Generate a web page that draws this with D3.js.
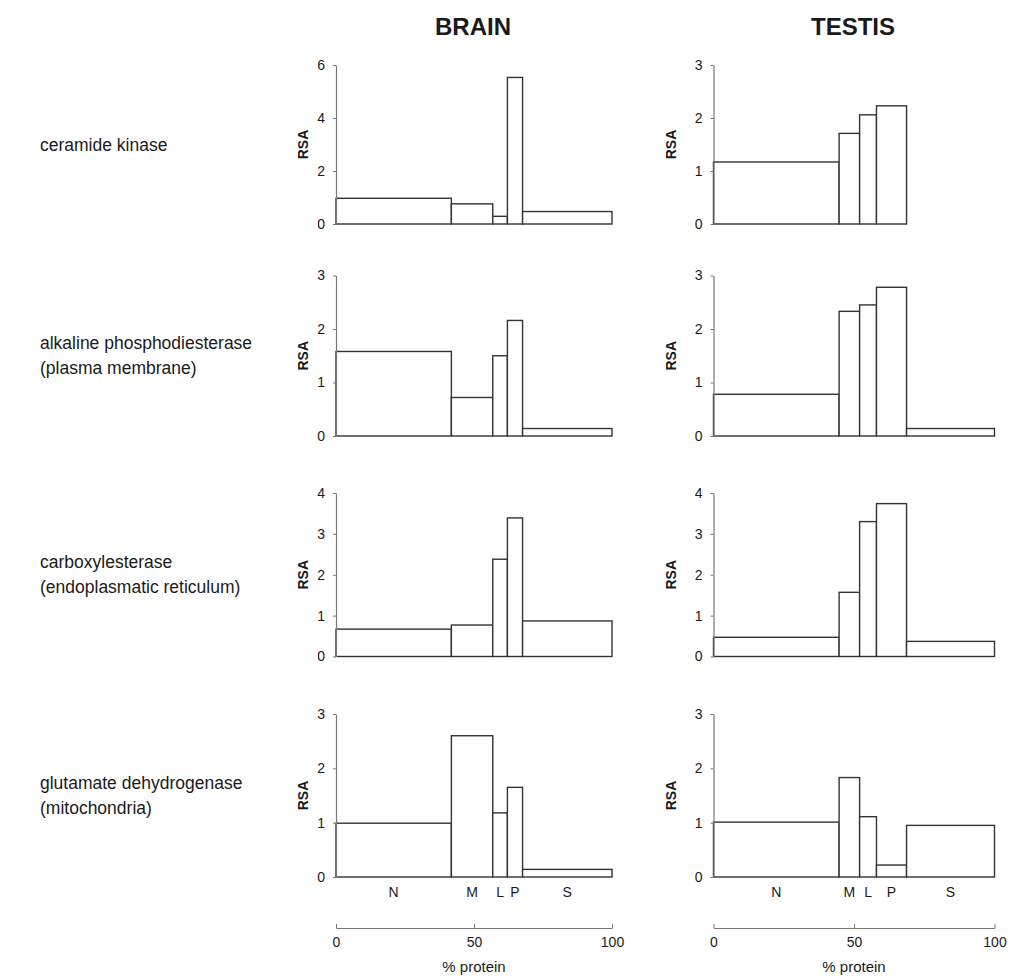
<!DOCTYPE html>
<html lang="en">
<head>
    <meta charset="UTF-8">
    <title>RSA distribution - brain and testis</title>
    <script src="https://d3js.org/d3.v7.min.js"></script>
    <style>
        body { margin: 0; background: #fff; }
        text { font-family: "Liberation Sans", Arial, Helvetica, sans-serif; fill: #1a1a1a; }
    </style>
</head>
<body>
<svg width="1010" height="976"></svg>

<script>
    // fractions along the x axis (% of total protein)
    const fractions = ["N", "M", "L", "P", "S"];
    const brainWidths = [41.8, 15.0, 5.3, 5.5, 32.4];
    const testisWidths = [44.7, 7.3, 6.0, 10.7, 31.3];

    const enzymes = [
        ["ceramide kinase"],
        ["alkaline phosphodiesterase", "(plasma membrane)"],
        ["carboxylesterase", "(endoplasmatic reticulum)"],
        ["glutamate dehydrogenase", "(mitochondria)"]
    ];

    // relative specific activity, one row per enzyme, one value per fraction
    const brainRSA = [
        [0.97, 0.76, 0.29, 5.53, 0.47],
        [1.58, 0.72, 1.50, 2.16, 0.14],
        [0.67, 0.77, 2.38, 3.39, 0.87],
        [0.99, 2.60, 1.18, 1.65, 0.14]
    ];
    const testisRSA = [
        [1.17, 1.71, 2.06, 2.23, 0.00],
        [0.78, 2.33, 2.45, 2.78, 0.14],
        [0.47, 1.57, 3.30, 3.74, 0.37],
        [1.01, 1.83, 1.11, 0.22, 0.95]
    ];
    const brainMax = [6, 3, 4, 3];
    const testisMax = [3, 3, 4, 3];
    const brainTicks = [[0, 2, 4, 6], [0, 1, 2, 3], [0, 1, 2, 3, 4], [0, 1, 2, 3]];
    const testisTicks = [[0, 1, 2, 3], [0, 1, 2, 3], [0, 1, 2, 3, 4], [0, 1, 2, 3]];
    const protTicks = [0, 50, 100];

    const svg = d3.select("svg");

    const rowTop = [65, 275.5, 493, 714];
    const rowBottom = [224, 436, 656.5, 877];

    const columns = [
        {name: "BRAIN", widths: brainWidths, rsa: brainRSA, max: brainMax, ticks: brainTicks,
         x: d3.scaleLinear().domain([0, 100]).range([336, 612]), rsaX: 303},
        {name: "TESTIS", widths: testisWidths, rsa: testisRSA, max: testisMax, ticks: testisTicks,
         x: d3.scaleLinear().domain([0, 100]).range([713.5, 994.5]), rsaX: 671}
    ];

    // row labels
    enzymes.forEach((lines, i) => {
        const mid = (rowTop[i] + rowBottom[i]) / 2;
        const t = svg.append("text")
            .attr("x", 40)
            .attr("y", mid + 6 - (lines.length - 1) * 12.5)
            .style("font-size", "17.5px");
        lines.forEach((l, j) => {
            t.append("tspan").attr("x", 40).attr("dy", j ? 25 : 0).text(l);
        });
    });

    columns.forEach(col => {
        const x = col.x;
        // start/end of every fraction
        let acc = 0;
        const segs = col.widths.map((w, k) => {
            const s = {f: fractions[k], x0: acc, x1: acc + w};
            acc += w;
            return s;
        });

        svg.append("text")
            .attr("x", x(50) - 1)
            .attr("y", 35)
            .attr("text-anchor", "middle")
            .style("font-size", "24px")
            .style("font-weight", "bold")
            .text(col.name);

        col.rsa.forEach((vals, i) => {
            const y = d3.scaleLinear()
                .domain([0, col.max[i]])
                .range([rowBottom[i], rowTop[i]]);

            const g = svg.append("g");

            g.selectAll("rect")
                .data(vals.map((v, k) => ({v: v, s: segs[k]})))
                .enter()
                .append("rect")
                .attr("x", d => x(d.s.x0))
                .attr("y", d => y(d.v))
                .attr("width", d => x(d.s.x1) - x(d.s.x0))
                .attr("height", d => y(0) - y(d.v))
                .attr("fill", "white")
                .attr("stroke", "#333")
                .attr("stroke-width", 1.4);

            const ax = g.append("g")
                .attr("transform", `translate(${x(0)},0)`)
                .call(d3.axisLeft(y).tickValues(col.ticks[i]).tickFormat(d3.format("d"))
                    .tickSize(3).tickSizeOuter(0).tickPadding(8));
            ax.select(".domain").attr("stroke", "#777").attr("stroke-width", 1.2);
            ax.selectAll(".tick line").attr("stroke", "#777");
            ax.selectAll("text")
                .style("font-size", "14px")
                .style("font-family", "'Liberation Sans', Arial, sans-serif")
                .attr("fill", "#1a1a1a");

            svg.append("text")
                .attr("transform", `translate(${col.rsaX},${(rowTop[i] + rowBottom[i]) / 2}) rotate(-90)`)
                .attr("text-anchor", "middle")
                .attr("dy", "0.35em")
                .style("font-size", "14px")
                .style("font-weight", "bold")
                .text("RSA");
        });

        // fraction letters under the last row
        svg.append("g")
            .selectAll("text")
            .data(segs)
            .enter()
            .append("text")
            .attr("x", d => x((d.x0 + d.x1) / 2))
            .attr("y", 897)
            .attr("text-anchor", "middle")
            .style("font-size", "14px")
            .text(d => d.f);

        // % protein axis
        const bx = svg.append("g")
            .attr("transform", "translate(0,928)")
            .call(d3.axisTop(x).tickValues(protTicks).tickSize(4).tickSizeOuter(0).tickFormat(d3.format("d")));
        bx.select(".domain").attr("stroke", "#777").attr("stroke-width", 1.2);
        bx.selectAll(".tick line").attr("stroke", "#777");
        bx.selectAll("text")
            .attr("y", 19)
            .attr("dy", 0)
            .style("font-size", "14px")
            .style("font-family", "'Liberation Sans', Arial, sans-serif")
            .attr("fill", "#1a1a1a");

        svg.append("text")
            .attr("x", x(50))
            .attr("y", 972)
            .attr("text-anchor", "middle")
            .style("font-size", "15px")
            .text("% protein");
    });
</script>
</body>
</html>
